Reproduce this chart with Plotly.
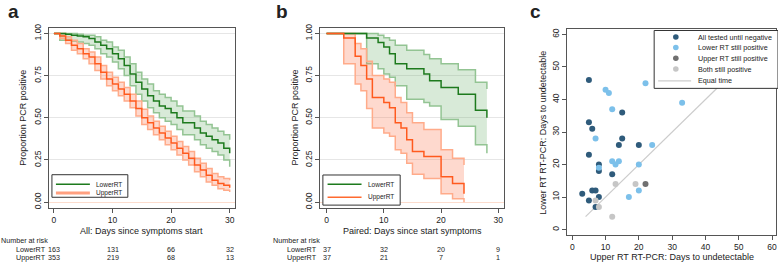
import plotly.graph_objects as go

W, H = 778, 264

# ---------------- Panel a: all samples (days 0..30) ----------------
days_a = list(range(31))
lower_a = [1.00, 1.00, 0.995, 0.99, 0.985, 0.98, 0.97, 0.95, 0.93, 0.91, 0.88, 0.85, 0.81, 0.76, 0.71, 0.67,
           0.63, 0.60, 0.57, 0.555, 0.53, 0.50, 0.47, 0.47, 0.44, 0.41, 0.39, 0.37, 0.35, 0.32, 0.29]
lower_a_lo = [1.00, 0.96, 0.96, 0.955, 0.95, 0.94, 0.93, 0.91, 0.88, 0.86, 0.83, 0.79, 0.75, 0.69, 0.64, 0.60,
              0.56, 0.53, 0.50, 0.48, 0.46, 0.43, 0.40, 0.40, 0.37, 0.34, 0.32, 0.30, 0.28, 0.25, 0.21]
lower_a_hi = [1.00, 1.00, 1.00, 1.00, 0.995, 0.99, 0.99, 0.98, 0.96, 0.95, 0.92, 0.90, 0.86, 0.82, 0.77, 0.73,
              0.70, 0.66, 0.64, 0.62, 0.60, 0.57, 0.54, 0.54, 0.51, 0.48, 0.46, 0.44, 0.42, 0.40, 0.37]
upper_a = [1.00, 0.985, 0.96, 0.93, 0.91, 0.88, 0.86, 0.82, 0.77, 0.73, 0.70, 0.67, 0.64, 0.60, 0.555, 0.50,
           0.47, 0.44, 0.41, 0.38, 0.35, 0.32, 0.29, 0.26, 0.22, 0.19, 0.16, 0.13, 0.11, 0.10, 0.085]
upper_a_lo = [1.00, 0.97, 0.94, 0.90, 0.88, 0.85, 0.82, 0.78, 0.73, 0.69, 0.66, 0.63, 0.60, 0.56, 0.51, 0.46,
              0.43, 0.40, 0.37, 0.34, 0.31, 0.28, 0.25, 0.22, 0.18, 0.15, 0.12, 0.10, 0.08, 0.07, 0.06]
upper_a_hi = [1.00, 1.00, 0.98, 0.96, 0.94, 0.91, 0.89, 0.86, 0.81, 0.77, 0.74, 0.71, 0.68, 0.64, 0.60, 0.55,
              0.51, 0.48, 0.45, 0.42, 0.39, 0.36, 0.33, 0.30, 0.26, 0.23, 0.20, 0.17, 0.15, 0.14, 0.13]

# ---------------- Panel b: paired samples ----------------
t_lower_b = [0, 7, 9, 10, 11, 12, 14, 17, 18, 20, 23, 26, 28]
lower_b = [1.0, 0.973, 0.946, 0.919, 0.88, 0.82, 0.79, 0.76, 0.72, 0.68, 0.64, 0.545, 0.50]
lower_b_lo = [1.0, 0.82, 0.79, 0.76, 0.74, 0.69, 0.61, 0.59, 0.57, 0.49, 0.45, 0.34, 0.29]
lower_b_hi = [1.0, 1.0, 0.99, 0.975, 0.96, 0.93, 0.90, 0.875, 0.85, 0.82, 0.785, 0.71, 0.67]
t_upper_b = [0, 3, 5, 6, 7, 8, 10, 11, 12, 13, 14, 15, 17, 20, 22, 24]
upper_b = [1.0, 0.973, 0.865, 0.81, 0.73, 0.62, 0.59, 0.56, 0.47, 0.44, 0.37, 0.30, 0.27, 0.15, 0.11, 0.05]
upper_b_lo = [1.0, 0.82, 0.70, 0.66, 0.555, 0.44, 0.41, 0.39, 0.31, 0.29, 0.23, 0.165, 0.14, 0.05, 0.02, 0.0]
upper_b_hi = [1.0, 1.0, 0.94, 0.91, 0.835, 0.75, 0.73, 0.71, 0.62, 0.59, 0.53, 0.47, 0.43, 0.31, 0.26, 0.22]

# Numbers at risk
risk_ticks = [0, 10, 20, 30]
risk_a_lower = [163, 131, 66, 32]
risk_a_upper = [353, 219, 68, 13]
risk_b_lower = [37, 32, 20, 9]
risk_b_upper = [37, 21, 7, 1]

# ---------------- Panel c: scatter ----------------
c_all_x = [5, 15, 5, 6, 15, 14, 20, 5, 8, 8, 12, 3, 6, 7, 5, 8, 7]
c_all_y = [46, 36, 33, 31, 28, 26, 26, 23, 20, 18, 17, 11, 12, 12, 9, 10, 7]
c_low_x = [22, 10, 11, 33, 12, 7, 24, 12, 13, 14, 20, 8, 20, 17]
c_low_y = [45, 43, 42, 39, 37, 28, 26, 21, 20, 21, 20, 19, 12, 10]
c_up_x = [22]
c_up_y = [14]
c_both_x = [13, 19, 7, 8, 12]
c_both_y = [14, 14, 9, 7, 4]
equal_line = [4, 46]

# ---------------- styles ----------------
FONT = "Liberation Sans, Arial, sans-serif"
GREEN = "#1d7a1d"
GREEN_EDGE = "#93c493"
GREEN_FILL = "rgba(100,170,100,0.25)"
ORANGE = "#ff5a1e"
ORANGE_EDGE = "#ffab8a"
ORANGE_FILL = "rgba(250,120,80,0.28)"
C_ALL = "#2f5b7b"
C_LOW = "#7cc0ea"
C_UP = "#707070"
C_BOTH = "#c6c6c6"


def px(x):
    return x / W


def py(y):
    return 1 - y / H


fig = go.Figure()


def band(x, lo, hi, edge, fill, xa, ya):
    fig.add_trace(go.Scatter(x=x, y=lo, mode="lines", line=dict(color=edge, width=1.5, shape="hv"),
                             xaxis=xa, yaxis=ya, showlegend=False, hoverinfo="skip"))
    fig.add_trace(go.Scatter(x=x, y=hi, mode="lines", line=dict(color=edge, width=1.5, shape="hv"),
                             fill="tonexty", fillcolor=fill,
                             xaxis=xa, yaxis=ya, showlegend=False, hoverinfo="skip"))


def km(x, y, color, xa, ya):
    fig.add_trace(go.Scatter(x=x, y=y, mode="lines", line=dict(color=color, width=1.5, shape="hv"),
                             xaxis=xa, yaxis=ya, showlegend=False))


# panel a
band(days_a, lower_a_lo, lower_a_hi, GREEN_EDGE, GREEN_FILL, "x", "y")
band(days_a, upper_a_lo, upper_a_hi, ORANGE_EDGE, ORANGE_FILL, "x", "y")
km(days_a, lower_a, GREEN, "x", "y")
km(days_a, upper_a, ORANGE, "x", "y")

# panel b
band(t_lower_b, lower_b_lo, lower_b_hi, GREEN_EDGE, GREEN_FILL, "x2", "y2")
band(t_upper_b, upper_b_lo, upper_b_hi, ORANGE_EDGE, ORANGE_FILL, "x2", "y2")
km(t_lower_b, lower_b, GREEN, "x2", "y2")
km(t_upper_b, upper_b, ORANGE, "x2", "y2")

# panel c
fig.add_trace(go.Scatter(x=equal_line, y=equal_line, mode="lines", line=dict(color="#cccccc", width=1.2),
                         xaxis="x3", yaxis="y3", showlegend=False))
for xs, ys, col in [(c_all_x, c_all_y, C_ALL), (c_low_x, c_low_y, C_LOW),
                    (c_up_x, c_up_y, C_UP), (c_both_x, c_both_y, C_BOTH)]:
    fig.add_trace(go.Scatter(x=xs, y=ys, mode="markers", marker=dict(color=col, size=6, line=dict(width=0)),
                             xaxis="x3", yaxis="y3", showlegend=False))

axis_common = dict(showline=True, mirror=True, linecolor="#555555", linewidth=1,
                   ticks="outside", ticklen=4, tickcolor="#555555", tickwidth=1,
                   tickfont=dict(family=FONT, size=8.5, color="#222222"))

km_y = dict(axis_common, range=[-0.0349, 1.0349], tickvals=[0, 0.25, 0.5, 0.75, 1],
            tickformat=".2f", tickangle=-90, showgrid=True, gridcolor="#e6e6e6", gridwidth=1,
            zeroline=True, zerolinecolor="#fcdccd", zerolinewidth=1,
            domain=[py(208), py(24)])

fig.update_layout(
    width=W, height=H, autosize=False,
    margin=dict(l=0, r=0, t=0, b=0),
    paper_bgcolor="white", plot_bgcolor="white",
    font=dict(family=FONT, color="#222222"),
    showlegend=False,
    xaxis=dict(axis_common, domain=[px(49), px(235.5)], range=[-0.85, 30.94], tickvals=[0, 10, 20, 30],
               showgrid=False, zeroline=False, anchor="y"),
    yaxis=dict(km_y, anchor="x"),
    xaxis2=dict(axis_common, domain=[px(320.5), px(504.5)], range=[-1.13, 30.96], tickvals=[0, 10, 20, 30],
                showgrid=False, zeroline=False, anchor="y2"),
    yaxis2=dict(km_y, anchor="x2"),
    xaxis3=dict(axis_common, domain=[px(568), px(777)], range=[-1.5, 61.2], tickvals=[0, 10, 20, 30, 40, 50, 60],
                showgrid=False, zeroline=False, anchor="y3"),
    yaxis3=dict(axis_common, domain=[py(235), py(25)], range=[-1.5, 61.8], tickvals=[0, 10, 20, 30, 40, 50, 60],
                tickangle=-90, showgrid=False, zeroline=False, anchor="x3"),
)

shapes = []
ann = []


def text(x, y, s, size, xanchor="center", angle=0):
    ann.append(dict(x=px(x), y=py(y), xref="paper", yref="paper", text=s,
                    showarrow=False, xanchor=xanchor, yanchor="middle", textangle=angle,
                    font=dict(family=FONT, size=size, color="#222222"), borderpad=0))


# panel letters
text(14, 8, "<b>a</b>", 19)
text(282, 8, "<b>b</b>", 19)
text(536.5, 8, "<b>c</b>", 19)

# axis titles
text(23, 116, "Proportion PCR positive", 9, angle=-90)
text(295, 116, "Proportion PCR positive", 9, angle=-90)
text(543, 131, "Lower RT RT-PCR: Days to undetectable", 9, angle=-90)
text(142, 231, "All: Days since symptoms start", 9)
text(413, 231, "Paired: Days since start symptoms", 9)
text(672.5, 258, "Upper RT RT-PCR: Days to undetectable", 9)


def risk_row(xref, y, values):
    for t, v in zip(risk_ticks, values):
        ann.append(dict(x=t, y=py(y), xref=xref, yref="paper", text=str(v), showarrow=False,
                        xanchor="center", yanchor="middle", font=dict(family=FONT, size=7.2, color="#222222")))


# risk tables
text(0, 241, "Number at risk", 7.2, xanchor="left")
text(47, 250.5, "LowerRT", 7.2, xanchor="right")
text(47, 258, "UpperRT", 7.2, xanchor="right")
risk_row("x", 250.5, risk_a_lower)
risk_row("x", 258, risk_a_upper)
text(272, 241, "Number at risk", 7.2, xanchor="left")
text(318, 250.5, "LowerRT", 7.2, xanchor="right")
text(318, 258, "UpperRT", 7.2, xanchor="right")
risk_row("x2", 250.5, risk_b_lower)
risk_row("x2", 258, risk_b_upper)


def rect(x0, y0, x1, y1):
    shapes.append(dict(type="rect", xref="paper", yref="paper", x0=px(x0), x1=px(x1), y0=py(y1), y1=py(y0),
                       line=dict(color="#333333", width=1), fillcolor="white", layer="above"))


def hline(x0, x1, y, color, width):
    shapes.append(dict(type="line", xref="paper", yref="paper", x0=px(x0), x1=px(x1), y0=py(y), y1=py(y),
                       line=dict(color=color, width=width), layer="above"))


def dot(x, y, r, color):
    shapes.append(dict(type="circle", xref="paper", yref="paper", x0=px(x - r), x1=px(x + r),
                       y0=py(y + r), y1=py(y - r), line=dict(width=0), fillcolor=color, layer="above"))


# legend a
rect(52, 174, 128, 197)
hline(56, 90, 183.7, GREEN, 1.5)
hline(56, 90, 192.7, "#ffa080", 3)
text(95, 183.7, "LowerRT", 6.5, xanchor="left")
text(95, 192.7, "UpperRT", 6.5, xanchor="left")

# legend b
rect(323.3, 174.3, 400.7, 205)
hline(328, 362, 183.7, GREEN, 1.5)
hline(328, 362, 197, "#ff6a30", 1.5)
text(367, 183.7, "LowerRT", 6.5, xanchor="left")
text(367, 197, "UpperRT", 6.5, xanchor="left")

# legend c
rect(655, 27, 779, 86)
rows_c = [33.7, 44.3, 55.3, 66.3]
for yy, col in zip(rows_c, [C_ALL, C_LOW, C_UP, C_BOTH]):
    dot(676.7, yy, 2.8, col)
hline(659, 692, 78.3, "#cccccc", 1.2)
for yy, s in zip(rows_c + [78.3], ["All tested until negative", "Lower RT still positive",
                                   "Upper RT still positive", "Both still positive", "Equal time"]):
    text(698, yy, s, 7.2, xanchor="left")

fig.update_layout(shapes=shapes, annotations=ann)
fig.write_html("out.html",
               config={"displayModeBar": False, "staticPlot": True},
               post_script="document.body.style.margin='0';document.body.style.padding='0';"
                           "document.documentElement.style.overflow='hidden';")
